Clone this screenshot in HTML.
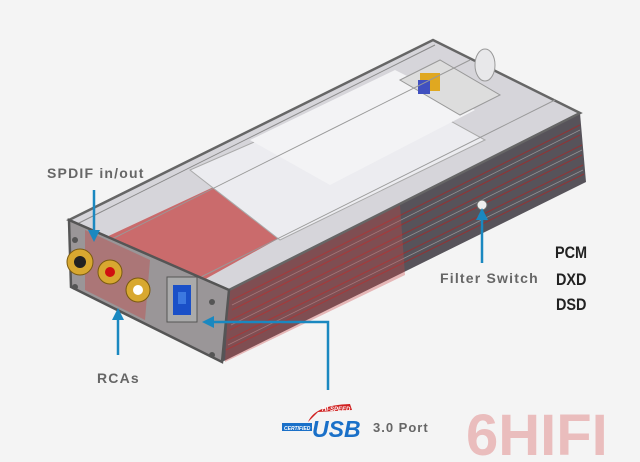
<!DOCTYPE html>
<html><head><meta charset="utf-8"><style>
html,body{margin:0;padding:0;background:#f4f4f4;}
svg{display:block}
text{font-family:"Liberation Sans",sans-serif;font-weight:bold;}
</style></head><body>
<svg width="640" height="462" viewBox="0 0 640 462" xmlns="http://www.w3.org/2000/svg">
<rect width="640" height="462" fill="#f4f4f4"/>
<!-- side face -->
<polygon points="229,290 580,113 586,182 222,362" fill="#57535a"/>
<g stroke="#9a3030" stroke-width="1.2" opacity="0.8">
<line x1="232" y1="300" x2="580" y2="125"/><line x1="232" y1="310" x2="580" y2="135"/>
<line x1="231" y1="320" x2="582" y2="145"/><line x1="230" y1="330" x2="582" y2="155"/>
<line x1="228" y1="340" x2="583" y2="165"/><line x1="226" y1="350" x2="584" y2="174"/>
</g>
<g stroke="#bbb" stroke-width="0.8" opacity="0.6">
<line x1="232" y1="305" x2="580" y2="130"/><line x1="231" y1="325" x2="582" y2="150"/><line x1="228" y1="345" x2="583" y2="170"/>
</g>
<polygon points="229,290 400,205 405,275 225,362" fill="#c44" opacity="0.35"/>
<!-- top face -->
<polygon points="69,220 433,40 580,113 229,290" fill="#d6d5da" stroke="#666" stroke-width="2.5"/>
<polygon points="100,240 250,170 330,210 200,282" fill="#c85858" opacity="0.85"/>
<polygon points="190,170 385,85 485,140 280,240" fill="#ececf0" stroke="#aaa"/>
<polygon points="250,140 395,70 475,110 330,185" fill="#f3f3f5"/>
<polygon points="400,80 440,60 500,95 460,115" fill="#ddd" stroke="#999"/>
<rect x="420" y="73" width="20" height="18" fill="#e0a820"/>
<rect x="418" y="80" width="12" height="14" fill="#4050c0"/>
<ellipse cx="485" cy="65" rx="10" ry="16" fill="#e8e8ea" stroke="#999"/>
<line x1="75" y1="225" x2="435" y2="45" stroke="#888" stroke-width="1"/>
<line x1="110" y1="240" x2="470" y2="60" stroke="#999" stroke-width="1"/>
<line x1="195" y1="280" x2="555" y2="100" stroke="#999" stroke-width="1"/>
<!-- front face -->
<polygon points="69,220 229,290 222,362 71,287" fill="#9a9698" stroke="#555" stroke-width="2.5"/>
<polygon points="85,230 150,260 145,320 85,290" fill="#bb5555" opacity="0.5"/>
<circle cx="80" cy="262" r="13" fill="#d8a830" stroke="#7a5a10"/>
<circle cx="80" cy="262" r="6" fill="#222"/>
<circle cx="110" cy="272" r="12" fill="#d8a830" stroke="#7a5a10"/>
<circle cx="110" cy="272" r="5" fill="#d01010"/>
<circle cx="138" cy="290" r="12" fill="#d8a830" stroke="#7a5a10"/>
<circle cx="138" cy="290" r="5" fill="#fff"/>
<rect x="167" y="277" width="30" height="45" fill="#aaa" stroke="#555"/>
<rect x="173" y="285" width="18" height="30" fill="#1a50c8"/>
<rect x="178" y="292" width="8" height="12" fill="#3c78e0"/>
<circle cx="75" cy="240" r="3" fill="#555"/><circle cx="75" cy="287" r="3" fill="#555"/>
<circle cx="212" cy="302" r="3" fill="#555"/><circle cx="212" cy="355" r="3" fill="#555"/>
<circle cx="482" cy="205" r="5" fill="#eee" stroke="#666"/>
<!-- arrows -->
<g stroke="#1a88c0" stroke-width="2.5" fill="none">
<line x1="94" y1="190" x2="94" y2="232"/>
<line x1="118" y1="355" x2="118" y2="318"/>
<line x1="482" y1="263" x2="482" y2="218"/>
<polyline points="328,390 328,322 212,322"/>
</g>
<g fill="#1a88c0">
<polygon points="88,230 100,230 94,242"/>
<polygon points="112,320 124,320 118,308"/>
<polygon points="476,220 488,220 482,208"/>
<polygon points="214,316 214,328 202,322"/>
</g>
<text x="47" y="178" font-size="14" fill="#666" letter-spacing="1.2">SPDIF in/out</text>
<text x="97" y="383" font-size="14" fill="#666" letter-spacing="1.2">RCAs</text>
<text x="440" y="283" font-size="14" fill="#666" letter-spacing="1.2">Filter Switch</text>
<text x="373" y="432" font-size="13" fill="#666" letter-spacing="1">3.0 Port</text>
<!-- USB logo -->
<path d="M308,422 Q315,405 350,404 L352,410 L318,412 Z" fill="#d02020"/>
<text x="322" y="411" font-size="6" fill="#fff" font-style="italic">HI-SPEED</text>
<rect x="282" y="423" width="30" height="8" fill="#1a70c8"/>
<text x="284" y="430" font-size="5" fill="#fff" font-style="italic">CERTIFIED</text>
<text x="312" y="437" font-size="23" fill="#1a70c8" font-style="italic">USB</text>
<text x="555" y="258" font-size="17" fill="#222" transform="translate(555,0) scale(0.85,1) translate(-555,0)">PCM</text>
<text x="556" y="285" font-size="17" fill="#222" font-weight="normal" transform="translate(556,0) scale(0.85,1) translate(-556,0)">DXD</text>
<text x="556" y="310" font-size="17" fill="#222" font-weight="normal" transform="translate(556,0) scale(0.85,1) translate(-556,0)">DSD</text>
<text x="466" y="455" font-size="58" fill="#e8b0b0" font-weight="normal" opacity="0.8">6HIFI</text>
</svg>
</body></html>
